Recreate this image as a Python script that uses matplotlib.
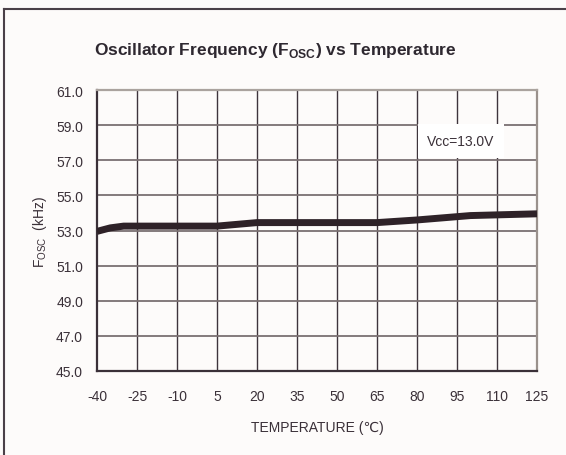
import matplotlib.pyplot as plt
from matplotlib.lines import Line2D

plt.rcParams['font.family'] = ['Liberation Sans', 'DejaVu Sans']
plt.rcParams['mathtext.fontset'] = 'custom'
plt.rcParams['mathtext.rm'] = 'Liberation Sans'
plt.rcParams['mathtext.bf'] = 'Liberation Sans:bold'
plt.rcParams['axes.unicode_minus'] = False

## data
temp = [-40, -35, -30, 5, 20, 65, 80, 100, 125]
fosc = [52.95, 53.15, 53.25, 53.25, 53.45, 53.45, 53.6, 53.85, 53.95]
xticks = [-40, -25, -10, 5, 20, 35, 50, 65, 80, 95, 110, 125]
yticks = [45.0, 47.0, 49.0, 51.0, 53.0, 55.0, 57.0, 59.0, 61.0]

txt = '#3a3038'
bg = '#fdfbfa'

fig = plt.figure(figsize=(5.66, 4.56), dpi=100, facecolor=bg)
ax = fig.add_axes([97/566, 1-372/456, 440/566, 281/456])
ax.set_facecolor(bg)

ax.set_xlim(-40, 125)
ax.set_ylim(45, 61)
ax.set_xticks(xticks)
ax.set_yticks(yticks)
ax.set_yticklabels(['%.1f' % v for v in yticks])
ax.tick_params(length=0, labelsize=10, colors=txt)
ax.tick_params(axis='x', pad=13)
ax.tick_params(axis='y', pad=10)

for x in xticks[1:-1]:
    ax.axvline(x, color='#3e343c', lw=1.0, zorder=1)
for y in yticks[1:-1]:
    ax.axhline(y, color='#7a7072', lw=1.3, zorder=1)

ax.spines['left'].set_color('#3a3038')
ax.spines['bottom'].set_color('#3a3038')
ax.spines['top'].set_color('#aaa39e')
ax.spines['right'].set_color('#9a918c')
for s in ax.spines.values():
    s.set_linewidth(1.6)

ax.plot(temp, fosc, color='#2e2228', lw=5, solid_capstyle='butt', zorder=3)

ax.text(96.5, 58.1, 'Vcc=13.0V', fontsize=10, color=txt, ha='center', va='center',
        bbox=dict(facecolor='white', edgecolor='none', pad=7), zorder=4)

ax.set_xlabel('TEMPERATURE (\u2103)', fontsize=10, color=txt, labelpad=12)
ax.set_ylabel(r'F$_{\mathrm{OSC}}$  (kHz)', fontsize=10, color=txt, labelpad=5)

fig.text(275/566, 1-50/456, r'Oscillator Frequency (F$_{\mathbf{OSC}}$) vs Temperature',
         fontsize=12.5, fontweight='bold', color='#2e2830', ha='center', va='center')

# outer frame
fig.add_artist(Line2D([4/566, 1], [1-9.5/456, 1-9.5/456], color='#4a4048', lw=1.5,
                      transform=fig.transFigure))
fig.add_artist(Line2D([4/566, 4/566], [0, 1-9.5/456], color='#4a4048', lw=1.5,
                      transform=fig.transFigure))

fig.savefig('out.png', dpi=100, facecolor=bg)
